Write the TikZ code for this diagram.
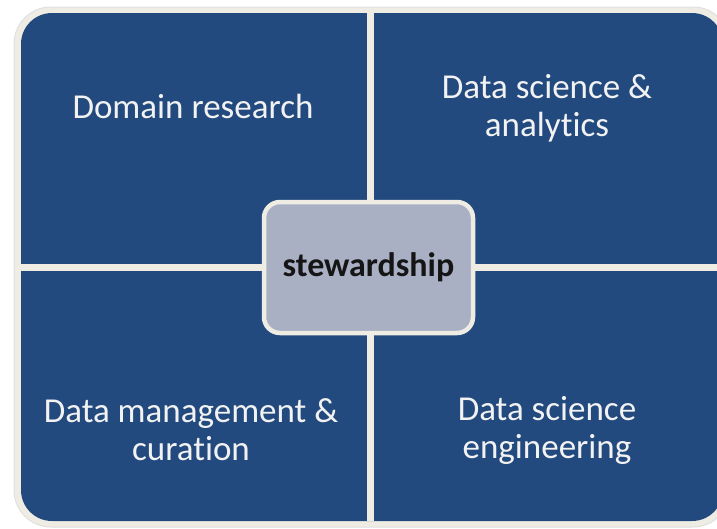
\documentclass[tikz,border=0pt]{standalone}
\usepackage{fontspec}
\setmainfont[Ligatures={NoCommon}]{Carlito}
\definecolor{qblue}{HTML}{224A7E}
\definecolor{cream}{HTML}{EFEDE3}
\definecolor{cgray}{HTML}{A9B0C4}
\definecolor{qtext}{HTML}{F2F2F2}
\definecolor{stext}{HTML}{151515}
\begin{document}
\begin{tikzpicture}[x=1pt,y=-1pt,
  qlabel/.style={text=qtext,font=\fontsize{35}{38}\selectfont,align=center},
  divider/.style={cream,line width=7pt},
  centerbox/.style={fill=cgray,draw=cream,line width=4.5pt,rounded corners=16pt,
    minimum width=209pt,minimum height=131pt,text=stext,font=\fontsize{34}{38}\selectfont\bfseries}]
\useasboundingbox (0,0) rectangle (717,528);
\clip (0,0) rectangle (717,528);
\fill[white] (0,0) rectangle (717,528);
\draw[fill=cream,draw=black!12,line width=1pt,rounded corners=37pt] (14,7) rectangle (730,527);
\fill[qblue,rounded corners=31pt] (21,13) rectangle (723,521);
\coordinate (vt) at (370.5,13);
\coordinate (vb) at (370.5,521);
\coordinate (hl) at (21,267);
\coordinate (hr) at (723,267);
\draw[divider] (vt) -- (vb);
\draw[divider] (hl) -- (hr);
\node[centerbox] (center) at (368.5,267.5) {stewardship};
\node[qlabel] (dr) at (193,106) {Domain research};
\node[qlabel] (dsa) at (547,108) {Data science \&\\analytics};
\node[qlabel] (dmc) at (191,430) {Data management \&\\curation};
\node[qlabel] (dse) at (547,430) {Data science\\engineering};
\end{tikzpicture}
\end{document}
